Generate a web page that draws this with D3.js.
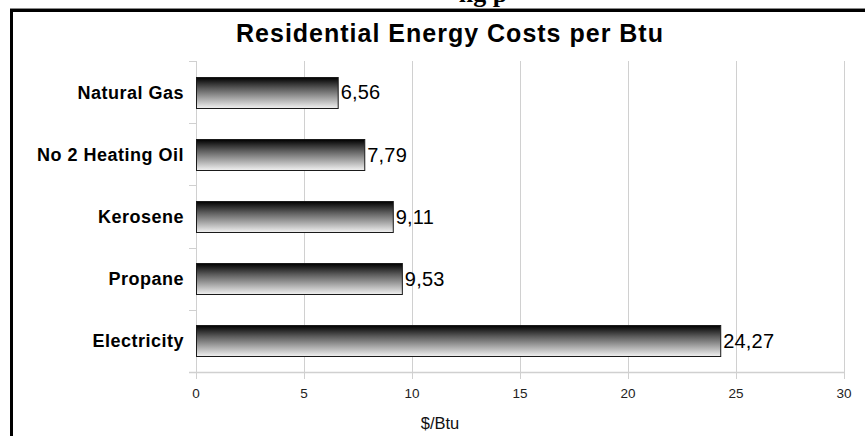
<!DOCTYPE html>
<html>
<head>
<meta charset="utf-8">
<script src="https://cdn.jsdelivr.net/npm/d3@7/dist/d3.min.js"></script>
<style>
  html, body { margin: 0; padding: 0; background: #fff; }
  svg { display: block; }
</style>
</head>
<body>
<svg id="chart" width="865" height="436"></svg>
<script>
// Residential energy costs, dollars per Btu
const categories = ["Natural Gas", "No 2 Heating Oil", "Kerosene", "Propane", "Electricity"];
const costs = [6.56, 7.79, 9.11, 9.53, 24.27];
const xTicks = [0, 5, 10, 15, 20, 25, 30];
const chartTitle = "Residential Energy Costs per Btu";
const axisTitle = "$/Btu";

const W = 865, H = 436;
const plot = { left: 196, right: 844, top: 61, bottom: 372 };

const svg = d3.select("#chart");

// page heading peeking above the chart frame
svg.append("text")
  .attr("x", 483).attr("y", 2)
  .attr("text-anchor", "middle")
  .style("font-family", "'Liberation Serif', 'DejaVu Serif', serif")
  .style("font-weight", "bold")
  .style("font-size", "26px")
  .text("ng p");

// chart frame
svg.append("line")
  .attr("x1", 10).attr("x2", W).attr("y1", 8.5).attr("y2", 8.5)
  .attr("stroke", "#8a8a8a").attr("stroke-width", 1);
svg.append("rect")
  .attr("x", 11.5).attr("y", 10.5)
  .attr("width", W + 20).attr("height", H + 20)
  .attr("fill", "#fff")
  .attr("stroke", "#000").attr("stroke-width", 3);

const defs = svg.append("defs");
const grad = defs.append("linearGradient")
  .attr("id", "barShade")
  .attr("x1", 0).attr("y1", 0).attr("x2", 0).attr("y2", 1);
grad.append("stop").attr("offset", "0%").attr("stop-color", "#000");
grad.append("stop").attr("offset", "35%").attr("stop-color", "#5a5a5a");
grad.append("stop").attr("offset", "100%").attr("stop-color", "#f2f2f2");

const x = d3.scaleLinear().domain([0, 30]).range([plot.left, plot.right]);
const y = d3.scaleBand().domain(categories).range([plot.top, plot.bottom]).paddingInner(0.5).paddingOuter(0.25);

const gridColor = "#d0d0d0";

// vertical gridlines
svg.append("g")
  .selectAll("line")
  .data(xTicks)
  .join("line")
  .attr("x1", d => Math.round(x(d)) + 0.5)
  .attr("x2", d => Math.round(x(d)) + 0.5)
  .attr("y1", plot.top)
  .attr("y2", plot.bottom + 7)
  .attr("stroke", gridColor)
  .attr("stroke-width", 1);

// category boundary ticks on the category axis
const bounds = d3.range(categories.length + 1).map(i => plot.top + i * y.step());
svg.append("g")
  .selectAll("line")
  .data(bounds)
  .join("line")
  .attr("x1", plot.left - 7)
  .attr("x2", plot.left)
  .attr("y1", d => Math.round(d) + 0.5)
  .attr("y2", d => Math.round(d) + 0.5)
  .attr("stroke", gridColor);

// category axis line
svg.append("line")
  .attr("x1", plot.left + 0.5).attr("x2", plot.left + 0.5)
  .attr("y1", plot.top).attr("y2", plot.bottom)
  .attr("stroke", gridColor);

// value axis line
svg.append("line")
  .attr("x1", plot.left - 7).attr("x2", plot.right + 0.5)
  .attr("y1", plot.bottom + 0.5).attr("y2", plot.bottom + 0.5)
  .attr("stroke", gridColor).attr("stroke-width", 1.5);

// bars
svg.append("g")
  .selectAll("rect")
  .data(categories)
  .join("rect")
  .attr("x", x(0) + 0.5)
  .attr("y", d => Math.round(y(d)) + 0.5)
  .attr("width", (d, i) => x(costs[i]) - x(0))
  .attr("height", Math.round(y.bandwidth()))
  .attr("fill", "url(#barShade)")
  .attr("stroke", "#1a1a1a")
  .attr("stroke-width", 1);

// value labels
svg.append("g")
  .selectAll("text")
  .data(categories)
  .join("text")
  .attr("x", (d, i) => x(costs[i]) + 3)
  .attr("y", d => y(d) + y.bandwidth() / 2)
  .attr("dy", "0.36em")
  .style("font-family", "'Liberation Sans', Arial, sans-serif")
  .style("font-size", "20px")
  .style("letter-spacing", "0.2px")
  .attr("fill", "#000")
  .text((d, i) => d3.format(".2f")(costs[i]).replace(".", ","));

// category labels
svg.append("g")
  .selectAll("text")
  .data(categories)
  .join("text")
  .attr("x", 184)
  .attr("y", d => y(d) + y.bandwidth() / 2)
  .attr("dy", "0.36em")
  .attr("text-anchor", "end")
  .style("font-family", "'Liberation Sans', Arial, sans-serif")
  .style("font-weight", "bold")
  .style("font-size", "18px")
  .style("letter-spacing", "0.5px")
  .attr("fill", "#000")
  .text(d => d);

// tick labels
svg.append("g")
  .selectAll("text")
  .data(xTicks)
  .join("text")
  .attr("x", d => x(d))
  .attr("y", 398)
  .attr("text-anchor", "middle")
  .style("font-family", "'Liberation Sans', Arial, sans-serif")
  .style("font-size", "13.5px")
  .attr("fill", "#222")
  .text(d => d);

// axis title
svg.append("text")
  .attr("x", 440)
  .attr("y", 429)
  .attr("text-anchor", "middle")
  .style("font-family", "'Liberation Sans', Arial, sans-serif")
  .style("font-size", "16.5px")
  .attr("fill", "#111")
  .text(axisTitle);

// chart title
svg.append("text")
  .attr("x", 450)
  .attr("y", 42)
  .attr("text-anchor", "middle")
  .style("font-family", "'Liberation Sans', Arial, sans-serif")
  .style("font-weight", "bold")
  .style("font-size", "25px")
  .style("letter-spacing", "1px")
  .attr("fill", "#000")
  .text(chartTitle);
</script>
</body>
</html>
